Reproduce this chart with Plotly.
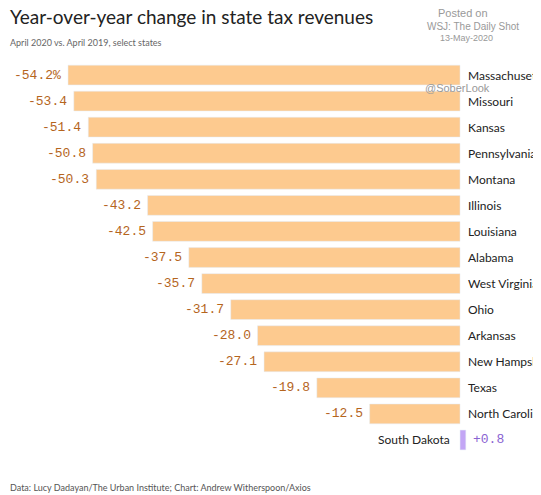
import plotly.graph_objects as go

states = ["Massachusetts", "Missouri", "Kansas", "Pennsylvania", "Montana", "Illinois",
          "Louisiana", "Alabama", "West Virginia", "Ohio", "Arkansas", "New Hampshire",
          "Texas", "North Carolina", "South Dakota"]
change = [-54.2, -53.4, -51.4, -50.8, -50.3, -43.2, -42.5, -37.5, -35.7, -31.7,
          -28.0, -27.1, -19.8, -12.5, 0.8]
value_labels = ["-54.2%", "-53.4", "-51.4", "-50.8", "-50.3", "-43.2", "-42.5", "-37.5",
                "-35.7", "-31.7", "-28.0", "-27.1", "-19.8", "-12.5", "+0.8"]

colors = ["#fdca8f" if v < 0 else "#c3a6f5" for v in change]

fig = go.Figure(go.Bar(x=change, y=states, orientation="h", marker_color=colors,
                       width=0.76, hoverinfo="skip"))

for s, v, t in zip(states, change, value_labels):
    if v < 0:
        fig.add_annotation(x=v, y=s, text=t, showarrow=False, xanchor="right", xshift=-5,
                           font=dict(family="Liberation Mono", size=13, color="#b5651d"))
        fig.add_annotation(x=0, y=s, text=s, showarrow=False, xanchor="left", xshift=6,
                           font=dict(family="Lato", size=12, color="#222"))
    else:
        fig.add_annotation(x=v, y=s, text=t, showarrow=False, xanchor="left", xshift=5,
                           font=dict(family="Liberation Mono", size=13, color="#8a63d2"))
        fig.add_annotation(x=0, y=s, text=s, showarrow=False, xanchor="right", xshift=-8,
                           font=dict(family="Lato", size=12, color="#222"))

fig.add_annotation(xref="paper", yref="paper", x=0.0, y=1.0, yshift=46, xanchor="left",
                   yanchor="middle", showarrow=False, text="Year-over-year change in state tax revenues",
                   font=dict(family="Lato", size=19, color="#222"))
fig.add_annotation(xref="paper", yref="paper", x=0.0, y=1.0, yshift=20, xanchor="left",
                   yanchor="middle", showarrow=False, text="April 2020 vs. April 2019, select states",
                   font=dict(family="Lato", size=9, color="#666"))
fig.add_annotation(xref="paper", yref="paper", x=0.0, y=0, yshift=-34, xanchor="left",
                   yanchor="middle", showarrow=False,
                   text="Data: Lucy Dadayan/The Urban Institute; Chart: Andrew Witherspoon/Axios",
                   font=dict(family="Lato", size=9, color="#555"))
for txt, px, dy, sz in [("Posted on", 0.791, 49, 11), ("WSJ: The Daily Shot", 0.771, 36, 10),
                        ("13-May-2020", 0.795, 24, 9), ("@SoberLook", 0.767, -26, 11)]:
    fig.add_annotation(xref="paper", yref="paper", x=px, y=1.0, yshift=dy, xanchor="left",
                       yanchor="middle", showarrow=False, text=txt,
                       font=dict(family="Liberation Sans", size=sz, color="#999"))

fig.update_layout(
    width=541, height=495, margin=dict(l=0, r=0, t=54, b=50),
    paper_bgcolor="white", plot_bgcolor="white", showlegend=False,
    xaxis=dict(range=[-62.5, 12.3], visible=False, fixedrange=True),
    yaxis=dict(autorange="reversed", visible=False, fixedrange=True),
)
fig.write_html("out.html")
